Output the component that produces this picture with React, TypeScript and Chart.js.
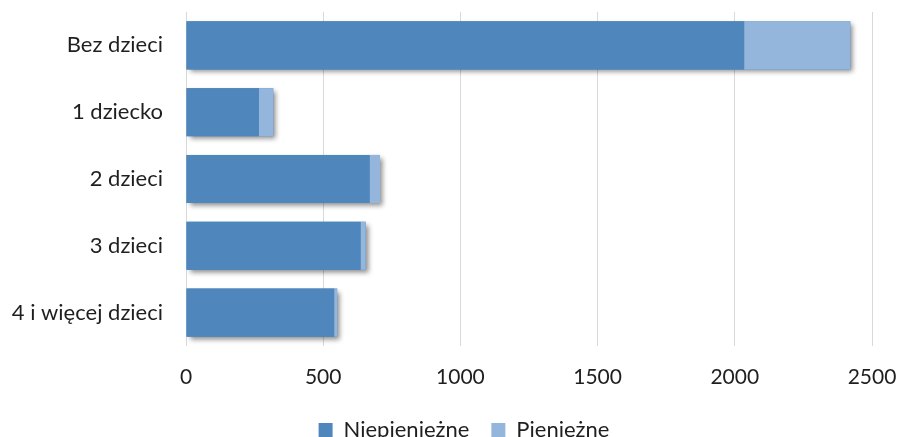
import React, { useEffect, useRef } from "react";
import { Chart, registerables } from "chart.js";

Chart.register(...registerables);

const categories = ["Bez dzieci", "1 dziecko", "2 dzieci", "3 dzieci", "4 i więcej dzieci"];
const niepieniezne = [2034, 266, 669, 636, 540];
const pieniezne = [387, 52, 38, 19, 11];
const seriesLabels = ["Niepieniężne", "Pieniężne"];
const xTicks = [0, 500, 1000, 1500, 2000, 2500];

const DARK = "#4F86BC";
const LIGHT = "#95B6DC";
const FONT = "Lato";
const H = 451;

const shadowPlugin = {
  id: "barShadow",
  afterLayout(chart: any) {
    const lg = chart.legend;
    if (lg) {
      lg.left += 28;
      lg.right += 28;
    }
  },
  beforeDatasetsDraw(chart: any) {
    const ctx = chart.ctx;
    const m0 = chart.getDatasetMeta(0);
    const m1 = chart.getDatasetMeta(1);
    ctx.save();
    ctx.shadowColor = "rgba(0,0,0,0.45)";
    ctx.shadowBlur = 5;
    ctx.shadowOffsetX = 3;
    ctx.shadowOffsetY = 3;
    ctx.fillStyle = DARK;
    m0.data.forEach((el: any, i: number) => {
      const a = el.getProps(["x", "y", "base", "height"], true);
      const b = m1.data[i].getProps(["x"], true);
      const left = Math.min(a.base, a.x);
      const right = Math.max(a.x, b.x);
      ctx.fillRect(left, a.y - a.height / 2, right - left, a.height);
    });
    ctx.restore();
  },
};

export default function App() {
  const ref = useRef<HTMLCanvasElement | null>(null);
  useEffect(() => {
    if (!ref.current) return;
    const chart = new Chart(ref.current, {
      type: "bar",
      data: {
        labels: categories,
        datasets: [
          {
            label: seriesLabels[0],
            data: niepieniezne,
            backgroundColor: DARK,
            borderWidth: 0,
            barPercentage: 0.72,
            categoryPercentage: 1,
          },
          {
            label: seriesLabels[1],
            data: pieniezne,
            backgroundColor: LIGHT,
            borderWidth: 0,
            barPercentage: 0.72,
            categoryPercentage: 1,
          },
        ],
      },
      plugins: [shadowPlugin],
      options: {
        indexAxis: "y",
        animation: false,
        responsive: false,
        maintainAspectRatio: false,
        layout: { padding: { top: 12, right: 26, left: 0, bottom: 0 } },
        plugins: {
          tooltip: { enabled: false },
          legend: {
            position: "bottom",
            labels: {
              boxWidth: 14,
              boxHeight: 14,
              padding: 22,
              color: "#1f1f1f",
              font: { family: FONT, size: 22 },
            },
          },
        },
        scales: {
          x: {
            stacked: true,
            min: 0,
            max: 2500,
            afterBuildTicks: (scale: any) => {
              scale.ticks = xTicks.map((v) => ({ value: v }));
            },
            afterFit: (scale: any) => {
              scale.height = 51;
              scale.paddingLeft = 0;
              scale.paddingRight = 0;
            },
            grid: { color: "#d9d9d9", lineWidth: 1, drawTicks: false },
            border: { display: false },
            ticks: {
              padding: 19,
              color: "#1f1f1f",
              font: { family: FONT, size: 21 },
              maxRotation: 0,
              autoSkip: false,
              callback: (v: any) => String(v),
            },
          },
          y: {
            stacked: true,
            afterFit: (scale: any) => {
              scale.width = 186;
              scale.paddingTop = 0;
              scale.paddingBottom = 0;
            },
            grid: { display: false, drawTicks: false },
            border: { display: false },
            ticks: {
              padding: 23,
              color: "#1f1f1f",
              font: { family: FONT, size: 22 },
            },
          },
        },
      },
    } as any);
    return () => chart.destroy();
  }, []);
  return (
    <div style={{ position: "fixed", left: 0, top: 0, width: 898, height: H }}>
      <canvas ref={ref} width={898} height={H} style={{ width: 898, height: H }} />
    </div>
  );
}
